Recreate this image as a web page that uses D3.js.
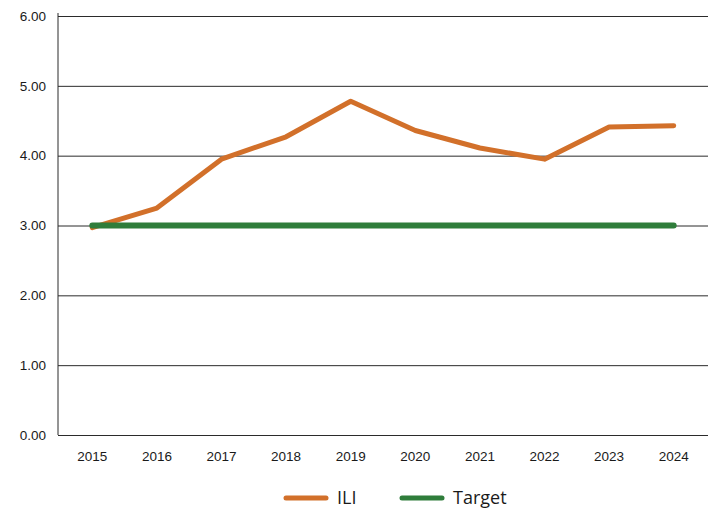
<!DOCTYPE html>
<html>
<head>
<meta charset="utf-8">
<script src="https://cdn.jsdelivr.net/npm/d3@7"></script>
<style>
  html, body { margin: 0; padding: 0; background: #fff; }
  svg { display: block; font-family: "Open Sans", "Noto Sans", sans-serif; }
</style>
</head>
<body>
<svg id="chart" width="708" height="513"></svg>
<script>
// Annual ILI values against a fixed target
const years = ["2015", "2016", "2017", "2018", "2019", "2020", "2021", "2022", "2023", "2024"];
const iliValues = [2.97, 3.25, 3.95, 4.27, 4.78, 4.36, 4.11, 3.95, 4.41, 4.43];
const targetValues = [3, 3, 3, 3, 3, 3, 3, 3, 3, 3];
const yTicks = [0, 1, 2, 3, 4, 5, 6];

const colors = { ili: "#d2702a", target: "#2f7d3b" };

const svg = d3.select("#chart");
const margin = { top: 16, right: 0, bottom: 78, left: 58 };
const width = 708 - margin.left - margin.right;
const height = 513 - margin.top - margin.bottom;

const g = svg.append("g").attr("transform", `translate(${margin.left},${margin.top})`);

const x = d3.scaleBand().domain(years).range([2, width - 2]).padding(0);
const y = d3.scaleLinear().domain([0, 6]).range([height, 0]);
const cx = d => x(d) + x.bandwidth() / 2;

// Horizontal gridlines with y labels
const yAxis = g.append("g")
  .call(d3.axisLeft(y).tickValues(yTicks).tickFormat(d3.format(".2f")).tickSize(-width).tickPadding(12));
yAxis.select(".domain").remove();
yAxis.selectAll(".tick line").attr("stroke", "#2b2b2b").attr("stroke-width", 1);
yAxis.selectAll(".tick text").attr("font-size", 13.5).attr("fill", "#1a1a1a");

// Vertical axis line
g.append("line")
  .attr("x1", 0).attr("x2", 0)
  .attr("y1", -3).attr("y2", height)
  .attr("stroke", "#2b2b2b").attr("stroke-width", 1);

// X axis labels
const xAxis = g.append("g")
  .attr("transform", `translate(0,${height})`)
  .call(d3.axisBottom(x).tickSize(0).tickPadding(16));
xAxis.select(".domain").remove();
xAxis.selectAll(".tick text").attr("font-size", 13.5).attr("fill", "#1a1a1a");

// Series lines
const line = d3.line().x(d => cx(d.year)).y(d => y(d.value));
const ili = years.map((yr, i) => ({ year: yr, value: iliValues[i] }));
const target = years.map((yr, i) => ({ year: yr, value: targetValues[i] }));

g.append("path")
  .datum(ili)
  .attr("d", line)
  .attr("fill", "none")
  .attr("stroke", colors.ili)
  .attr("stroke-width", 5)
  .attr("stroke-linejoin", "round")
  .attr("stroke-linecap", "round");

g.append("path")
  .datum(target)
  .attr("d", line)
  .attr("fill", "none")
  .attr("stroke", colors.target)
  .attr("stroke-width", 6)
  .attr("stroke-linecap", "round");

// Legend
const legendItems = [
  { name: "ILI", color: colors.ili, x: 286 },
  { name: "Target", color: colors.target, x: 402 }
];
const legend = svg.append("g");
legendItems.forEach(item => {
  const lg = legend.append("g").attr("transform", `translate(${item.x},498)`);
  lg.append("line")
    .attr("x1", 0).attr("x2", 40)
    .attr("stroke", item.color).attr("stroke-width", 5)
    .attr("stroke-linecap", "round");
  lg.append("text")
    .attr("x", 51).attr("y", 0)
    .attr("dy", "0.35em")
    .attr("font-size", 18)
    .attr("fill", "#1a1a1a")
    .text(item.name);
});
</script>
</body>
</html>
